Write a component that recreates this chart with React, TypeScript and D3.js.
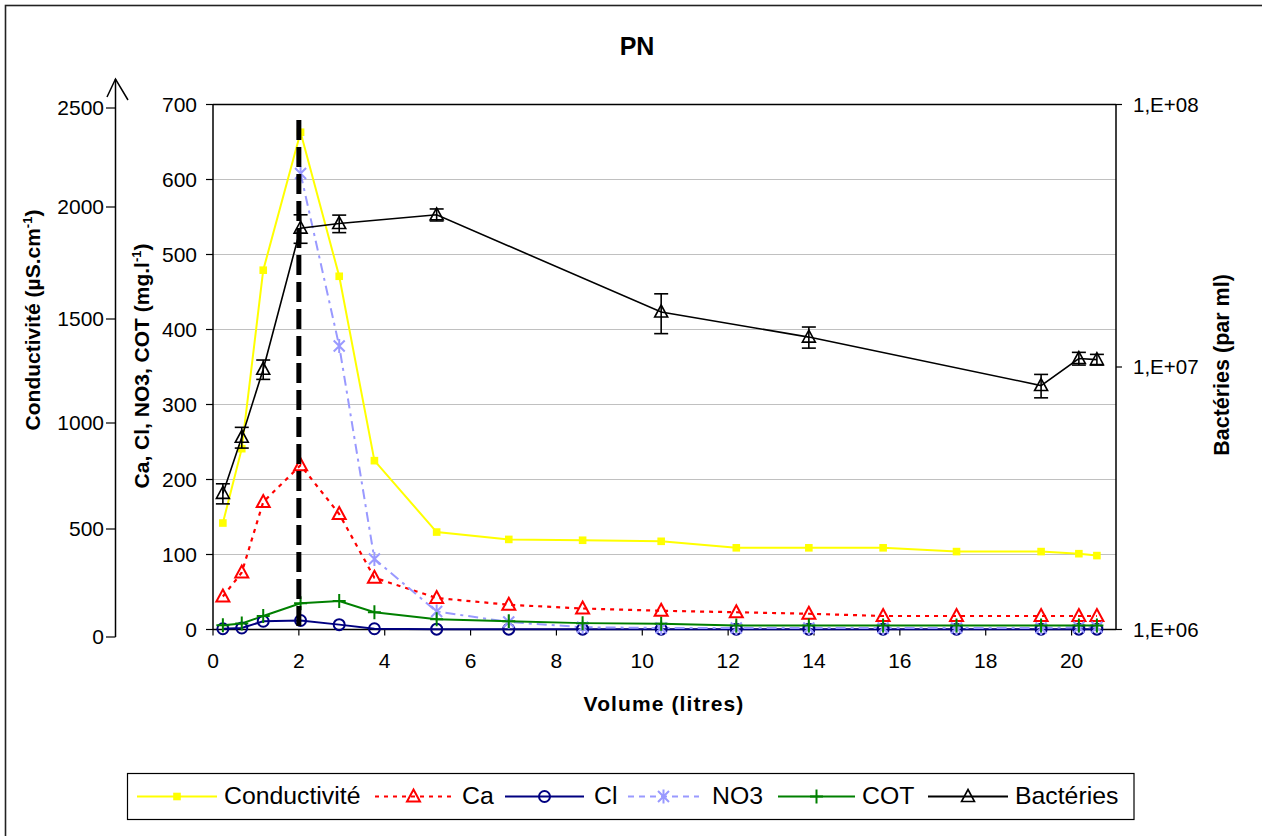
import React from 'react';
import * as d3 from 'd3';

// ---------- data ----------
const volume = [0.23, 0.67, 1.17, 2.04, 2.94, 3.76, 5.21, 6.89, 8.61, 10.44, 12.19, 13.88, 15.61, 17.32, 19.29, 20.17, 20.59];
const conductivite = [507, 861, 1711, 2368, 1682, 804, 464, 429, 425, 420, 389, 389, 389, 371, 371, 361, 352];
const ca = [44, 76, 170, 219, 154, 69, 42, 33, 28, 25, 23, 21, 18, 18, 18, 18, 18];
const cl = [1, 2, 11, 12, 6.5, 1, 0.5, 0.5, 0.5, 0.5, 0.5, 0.5, 0.5, 0.5, 0.5, 0.5, 0.5];
const no3: (number | null)[] = [null, null, null, 608, 378, 94, 24, 10, 3, 2, 2, 2, 2, 2, 2, 3, 3];
const cot = [5.6, 8, 18, 35, 38, 23, 13.6, 11, 8.5, 7.6, 5.4, 5.4, 5.4, 5.4, 5.4, 5.4, 5.4];

const bactVolume = [0.23, 0.67, 1.17, 2.04, 2.94, 5.21, 10.44, 13.88, 19.29, 20.17, 20.59];
const bacteries = [3.3e6, 5.4e6, 9.8e6, 3.38e7, 3.52e7, 3.8e7, 1.62e7, 1.3e7, 8.5e6, 1.077e7, 1.067e7];
const bactErreur = [0.29e6, 0.49e6, 0.83e6, 0.42e7, 0.27e7, 0.2e7, 0.28e7, 0.12e7, 0.87e6, 0.06e7, 0.05e7];

const xTicks = [0, 2, 4, 6, 8, 10, 12, 14, 16, 18, 20];
const yTicks = [0, 100, 200, 300, 400, 500, 600, 700];
const condTicks = [0, 500, 1000, 1500, 2000, 2500];
const bactTicks = [1e6, 1e7, 1e8];
const bactTickLabels = ['1,E+06', '1,E+07', '1,E+08'];
const markerVolume = 2;

const seriesNames = ['Conductivité', 'Ca', 'Cl', 'NO3', 'COT', 'Bactéries'];

// ---------- layout ----------
const W = 1262;
const H = 836;
const FONT = "'Liberation Sans', Arial, Helvetica, sans-serif";
const left = 213;
const right = 1116;
const top = 104.5;
const bottom = 629.5;

const x = d3.scaleLinear().domain([0, 21]).range([left, 1114.5]);
const y = d3.scaleLinear().domain([0, 700]).range([bottom, top]);
const yCond = d3.scaleLinear().domain([0, 2500]).range([bottom, top]);
// hand-drawn decorative axis (ticks were placed by hand in the original)
const yCondAxis = d3.scaleLinear().domain(condTicks).range([637, 529, 423, 319, 207, 108]);
const yBact = d3.scaleLog().domain([1e6, 1e8]).range([bottom, top]);

const COLORS = {
  cond: '#FFFF00',
  ca: '#FF0000',
  cl: '#000080',
  no3: '#9999FF',
  cot: '#008000',
  bact: '#000000',
};

const triPath = 'M0,-7 L6.5,5 L-6.5,5 Z';
const starPath = 'M0,-7 L0,7 M-5.5,-5.5 L5.5,5.5 M-5.5,5.5 L5.5,-5.5';
const plusPath = 'M-6.5,0 L6.5,0 M0,-7 L0,7';

function Marker({ kind, cx, cy }: { kind: string; cx: number; cy: number }) {
  const t = `translate(${cx},${cy})`;
  switch (kind) {
    case 'cond':
      return <rect x={cx - 3.8} y={cy - 3.8} width={7.6} height={7.6} fill={COLORS.cond} />;
    case 'ca':
      return <path d={triPath} transform={t} fill="none" stroke={COLORS.ca} strokeWidth={2} />;
    case 'cl':
      return <circle cx={cx} cy={cy} r={5.5} fill="none" stroke={COLORS.cl} strokeWidth={2} />;
    case 'no3':
      return <path d={starPath} transform={t} fill="none" stroke={COLORS.no3} strokeWidth={2} />;
    case 'cot':
      return <path d={plusPath} transform={t} fill="none" stroke={COLORS.cot} strokeWidth={2} />;
    case 'bact':
      return <path d={triPath} transform={t} fill="none" stroke={COLORS.bact} strokeWidth={1.6} />;
    default:
      return null;
  }
}

export default function App() {
  const lineGen = (scale: (v: number) => number) =>
    d3
      .line<[number, number | null]>()
      .defined((d) => d[1] !== null)
      .x((d) => x(d[0]))
      .y((d) => scale(d[1] as number));

  const pairs = (vals: (number | null)[], xs: number[] = volume) =>
    xs.map((v, i) => [v, vals[i]] as [number, number | null]);

  const series = [
    { key: 'cond', vals: conductivite as (number | null)[], scale: (v: number) => yCond(v), color: COLORS.cond, width: 2, dash: undefined as string | undefined },
    { key: 'ca', vals: ca, scale: (v: number) => y(v), color: COLORS.ca, width: 2.2, dash: '4 5' },
    { key: 'cl', vals: cl, scale: (v: number) => y(v), color: COLORS.cl, width: 2, dash: undefined },
    { key: 'no3', vals: no3, scale: (v: number) => y(v), color: COLORS.no3, width: 2, dash: '10 5 3 5' },
    { key: 'cot', vals: cot, scale: (v: number) => y(v), color: COLORS.cot, width: 2, dash: undefined },
  ];

  const bactLine = lineGen((v) => yBact(v))(pairs(bacteries, bactVolume)) || '';

  // legend layout
  const legendLineStart = [137, 375, 505, 628, 778, 928];
  const legendLineLen = [80, 77, 79, 71, 77, 80];
  const legendTextX = [224, 462, 594, 712, 862, 1015];
  const legendKeys = ['cond', 'ca', 'cl', 'no3', 'cot', 'bact'];
  const legendDash: (string | undefined)[] = [undefined, '4 5', undefined, '6 5', undefined, undefined];
  const legendColor = [COLORS.cond, COLORS.ca, COLORS.cl, COLORS.no3, COLORS.cot, COLORS.bact];
  const legendY = 796.5;

  return (
    <svg
      width={W}
      height={H}
      style={{ position: 'absolute', left: 0, top: 0, background: '#fff' }}
      fontFamily={FONT}
    >
      <rect x={0} y={0} width={W} height={H} fill="#fff" />
      {/* outer border */}
      <rect x={5.5} y={5.5} width={W + 10} height={H + 10} fill="none" stroke="#222" strokeWidth={1.6} />

      {/* title */}
      <text x={637} y={55} textAnchor="middle" fontSize={25} fontWeight="bold">PN</text>

      {/* gridlines */}
      {yTicks.filter((t) => t > 0 && t < 700).map((t) => (
        <line key={'g' + t} x1={left} x2={right} y1={y(t)} y2={y(t)} stroke="#c0c0c0" strokeWidth={1.2} />
      ))}

      {/* plot frame */}
      <line x1={left} x2={right} y1={top} y2={top} stroke="#000" strokeWidth={1.5} />
      <line x1={left} x2={left} y1={top} y2={bottom} stroke="#000" strokeWidth={1.5} />
      <line x1={right} x2={right} y1={top} y2={bottom} stroke="#000" strokeWidth={1.5} />
      <line x1={left} x2={right} y1={bottom} y2={bottom} stroke="#000" strokeWidth={1.5} />

      {/* primary y ticks & labels */}
      {yTicks.map((t) => (
        <g key={'yt' + t}>
          <line x1={206} x2={left} y1={y(t)} y2={y(t)} stroke="#000" strokeWidth={1.2} />
          <text x={197} y={y(t)} dy="0.35em" textAnchor="end" fontSize={21}>{t}</text>
        </g>
      ))}

      {/* x ticks & labels */}
      {xTicks.map((t) => (
        <g key={'xt' + t}>
          <line x1={x(t)} x2={x(t)} y1={bottom} y2={bottom + 6} stroke="#000" strokeWidth={1.2} />
          <text x={x(t)} y={668} textAnchor="middle" fontSize={21}>{t}</text>
        </g>
      ))}

      {/* right (bacteria) axis */}
      {bactTicks.map((t, i) => (
        <g key={'bt' + t}>
          <line x1={right} x2={right + 6} y1={yBact(t)} y2={yBact(t)} stroke="#000" strokeWidth={1.2} />
          <text x={1133} y={yBact(t)} dy="0.35em" textAnchor="start" fontSize={20.5}>{bactTickLabels[i]}</text>
        </g>
      ))}

      {/* hand-drawn conductivity axis */}
      <line x1={115.5} x2={115.5} y1={79} y2={637} stroke="#000" strokeWidth={1.5} />
      <polyline points="107,97 115.5,79 128,100" fill="none" stroke="#000" strokeWidth={1.5} />
      {condTicks.map((t) => (
        <g key={'ct' + t}>
          <line x1={106} x2={115.5} y1={yCondAxis(t)} y2={yCondAxis(t)} stroke="#000" strokeWidth={1.2} />
          <text x={104} y={yCondAxis(t)} dy="0.35em" textAnchor="end" fontSize={21}>{t}</text>
        </g>
      ))}

      {/* axis titles */}
      <text x={664} y={711} textAnchor="middle" fontSize={21} fontWeight="bold" letterSpacing={1.1}>
        Volume (litres)
      </text>
      <text transform="translate(40,320) rotate(-90)" textAnchor="middle" fontSize={21} fontWeight="bold">
        Conductivité (µS.cm<tspan fontSize={13} dy={-8}>-1</tspan><tspan dy={8}>)</tspan>
      </text>
      <text transform="translate(149,366) rotate(-90)" textAnchor="middle" fontSize={21} fontWeight="bold">
        Ca, Cl, NO3, COT (mg.l<tspan fontSize={13} dy={-8}>-1</tspan><tspan dy={8}>)</tspan>
      </text>
      <text transform="translate(1229,365) rotate(-90)" textAnchor="middle" fontSize={21.5} fontWeight="bold">
        Bactéries (par ml)
      </text>

      {/* series lines */}
      {series.map((s) => (
        <path
          key={'l' + s.key}
          d={lineGen(s.scale)(pairs(s.vals)) || ''}
          fill="none"
          stroke={s.color}
          strokeWidth={s.width}
          strokeDasharray={s.dash}
        />
      ))}
      {/* series markers */}
      {series.map((s) => (
        <g key={'m' + s.key}>
          {s.vals.map((v, i) =>
            v === null ? null : <Marker key={i} kind={s.key} cx={x(volume[i])} cy={s.scale(v)} />
          )}
        </g>
      ))}

      {/* bacteria */}
      <path d={bactLine} fill="none" stroke={COLORS.bact} strokeWidth={1.6} />
      {bacteries.map((v, i) => {
        const cx = x(bactVolume[i]);
        const y1 = yBact(v + bactErreur[i]);
        const y2 = yBact(v - bactErreur[i]);
        return (
          <g key={'b' + i}>
            <line x1={cx} x2={cx} y1={y1} y2={y2} stroke="#000" strokeWidth={1.6} />
            <line x1={cx - 7} x2={cx + 7} y1={y1} y2={y1} stroke="#000" strokeWidth={1.6} />
            <line x1={cx - 7} x2={cx + 7} y1={y2} y2={y2} stroke="#000" strokeWidth={1.6} />
            <Marker kind="bact" cx={cx} cy={yBact(v)} />
          </g>
        );
      })}

      {/* vertical dashed marker */}
      <line
        x1={x(markerVolume)}
        x2={x(markerVolume)}
        y1={120}
        y2={bottom}
        stroke="#000"
        strokeWidth={5}
        strokeDasharray="20 7"
      />

      {/* legend */}
      <rect x={127.5} y={773.5} width={1006.5} height={46} fill="#fff" stroke="#000" strokeWidth={1.2} />
      {seriesNames.map((name, i) => (
        <g key={'lg' + i}>
          <line
            x1={legendLineStart[i]}
            x2={legendLineStart[i] + legendLineLen[i]}
            y1={legendY}
            y2={legendY}
            stroke={legendColor[i]}
            strokeWidth={2}
            strokeDasharray={legendDash[i]}
          />
          <Marker kind={legendKeys[i]} cx={legendLineStart[i] + legendLineLen[i] / 2} cy={legendY} />
          <text x={legendTextX[i]} y={804} fontSize={24.8}>{name}</text>
        </g>
      ))}
    </svg>
  );
}
